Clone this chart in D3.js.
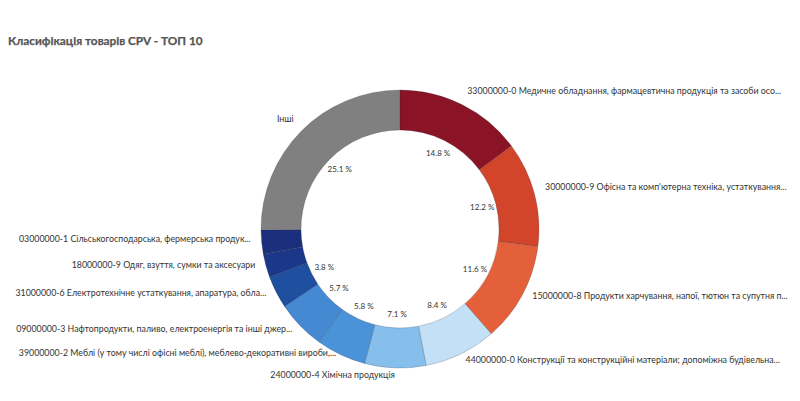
<!DOCTYPE html>
<html>
<head>
<meta charset="utf-8">
<script src="https://cdn.jsdelivr.net/npm/d3@7/dist/d3.min.js"></script>
<style>
  body { margin: 0; background: #fff; }
  svg { display: block; }
</style>
</head>
<body>
<svg id="chart" width="800" height="401"></svg>
<script>
const title = "Класифікація товарів CPV - ТОП 10";
const categories = [
  "33000000-0 Медичне обладнання, фармацевтична продукція та засоби осо...",
  "30000000-9 Офісна та комп'ютерна техніка, устаткування...",
  "15000000-8 Продукти харчування, напої, тютюн та супутня п...",
  "44000000-0 Конструкції та конструкційні матеріали; допоміжна будівельна...",
  "24000000-4 Хімічна продукція",
  "39000000-2 Меблі (у тому числі офісні меблі), меблево-декоративні вироби,...",
  "09000000-3 Нафтопродукти, паливо, електроенергія та інші джер...",
  "31000000-6 Електротехнічне устаткування, апаратура, обла...",
  "18000000-9 Одяг, взуття, сумки та аксесуари",
  "03000000-1 Сільськогосподарська, фермерська продук...",
  "Інші"
];
const values = [14.8, 12.2, 11.6, 8.4, 7.1, 5.8, 5.7, 3.8, 2.7, 2.8, 25.1];
const colors = ["#8a1326", "#d2452b", "#e4603a", "#c3e0f6", "#86bfec", "#4a93d8", "#4489d2", "#1f4f9f", "#1b3789", "#1c2f7c", "#808080"];

const svg = d3.select("#chart");
svg.append("text")
  .attr("x", 8).attr("y", 45)
  .attr("font-family", "Lato, 'Open Sans', sans-serif")
  .attr("font-weight", "bold")
  .attr("font-size", 11.8)
  .attr("fill", "#555")
  .attr("stroke", "#555")
  .attr("stroke-width", 0.25)
  .text(title);

const cx = 400, cy = 229, outerR = 139, innerR = 99, pctR = 85, labelR = 150;
const data = categories.map((c, i) => ({ name: c, value: values[i], color: colors[i] }));
const pie = d3.pie().value(d => d.value).sort(null);
const arcs = pie(data);
const arc = d3.arc().innerRadius(innerR).outerRadius(outerR);

const g = svg.append("g").attr("transform", `translate(${cx},${cy})`);
g.selectAll("path.slice").data(arcs).join("path")
  .attr("class", "slice")
  .attr("d", arc)
  .attr("fill", d => d.data.color)
  .attr("stroke", "rgba(40,40,60,0.35)")
  .attr("stroke-width", 0.6);

const pctArc = d3.arc().innerRadius(pctR).outerRadius(pctR);
g.selectAll("text.pct").data(arcs.filter(d => d.data.value >= 3)).join("text")
  .attr("class", "pct")
  .attr("transform", d => `translate(${pctArc.centroid(d)})`)
  .attr("text-anchor", "middle")
  .attr("dy", "0.35em")
  .attr("font-family", "Lato, 'Open Sans', sans-serif")
  .attr("font-size", 8)
  .attr("fill", "#333")
  .text(d => d.data.value.toFixed(1) + " %");

// outer labels with simple collision avoidance on the left side
const labArc = d3.arc().innerRadius(labelR).outerRadius(labelR);
const labels = arcs.map(d => {
  const [x, y] = labArc.centroid(d);
  const mid = (d.startAngle + d.endAngle) / 2;
  return { d, x, y: y - 4, right: mid < Math.PI };
});
const left = labels.filter(l => !l.right && l.d.data.name !== "Інші").sort((a, b) => b.y - a.y);
for (let i = 1; i < left.length; i++) {
  if (left[i - 1].y - left[i].y < 22) left[i].y = left[i - 1].y - 22;
}
g.selectAll("text.lab").data(labels).join("text")
  .attr("class", "lab")
  .attr("x", l => l.x)
  .attr("y", l => l.y)
  .attr("dy", "0.35em")
  .attr("text-anchor", l => l.right ? "start" : "end")
  .attr("font-family", "Lato, 'Open Sans', sans-serif")
  .attr("font-size", 8.8)
  .attr("fill", "#333")
  .text(l => l.d.data.name);
</script>
</body>
</html>
